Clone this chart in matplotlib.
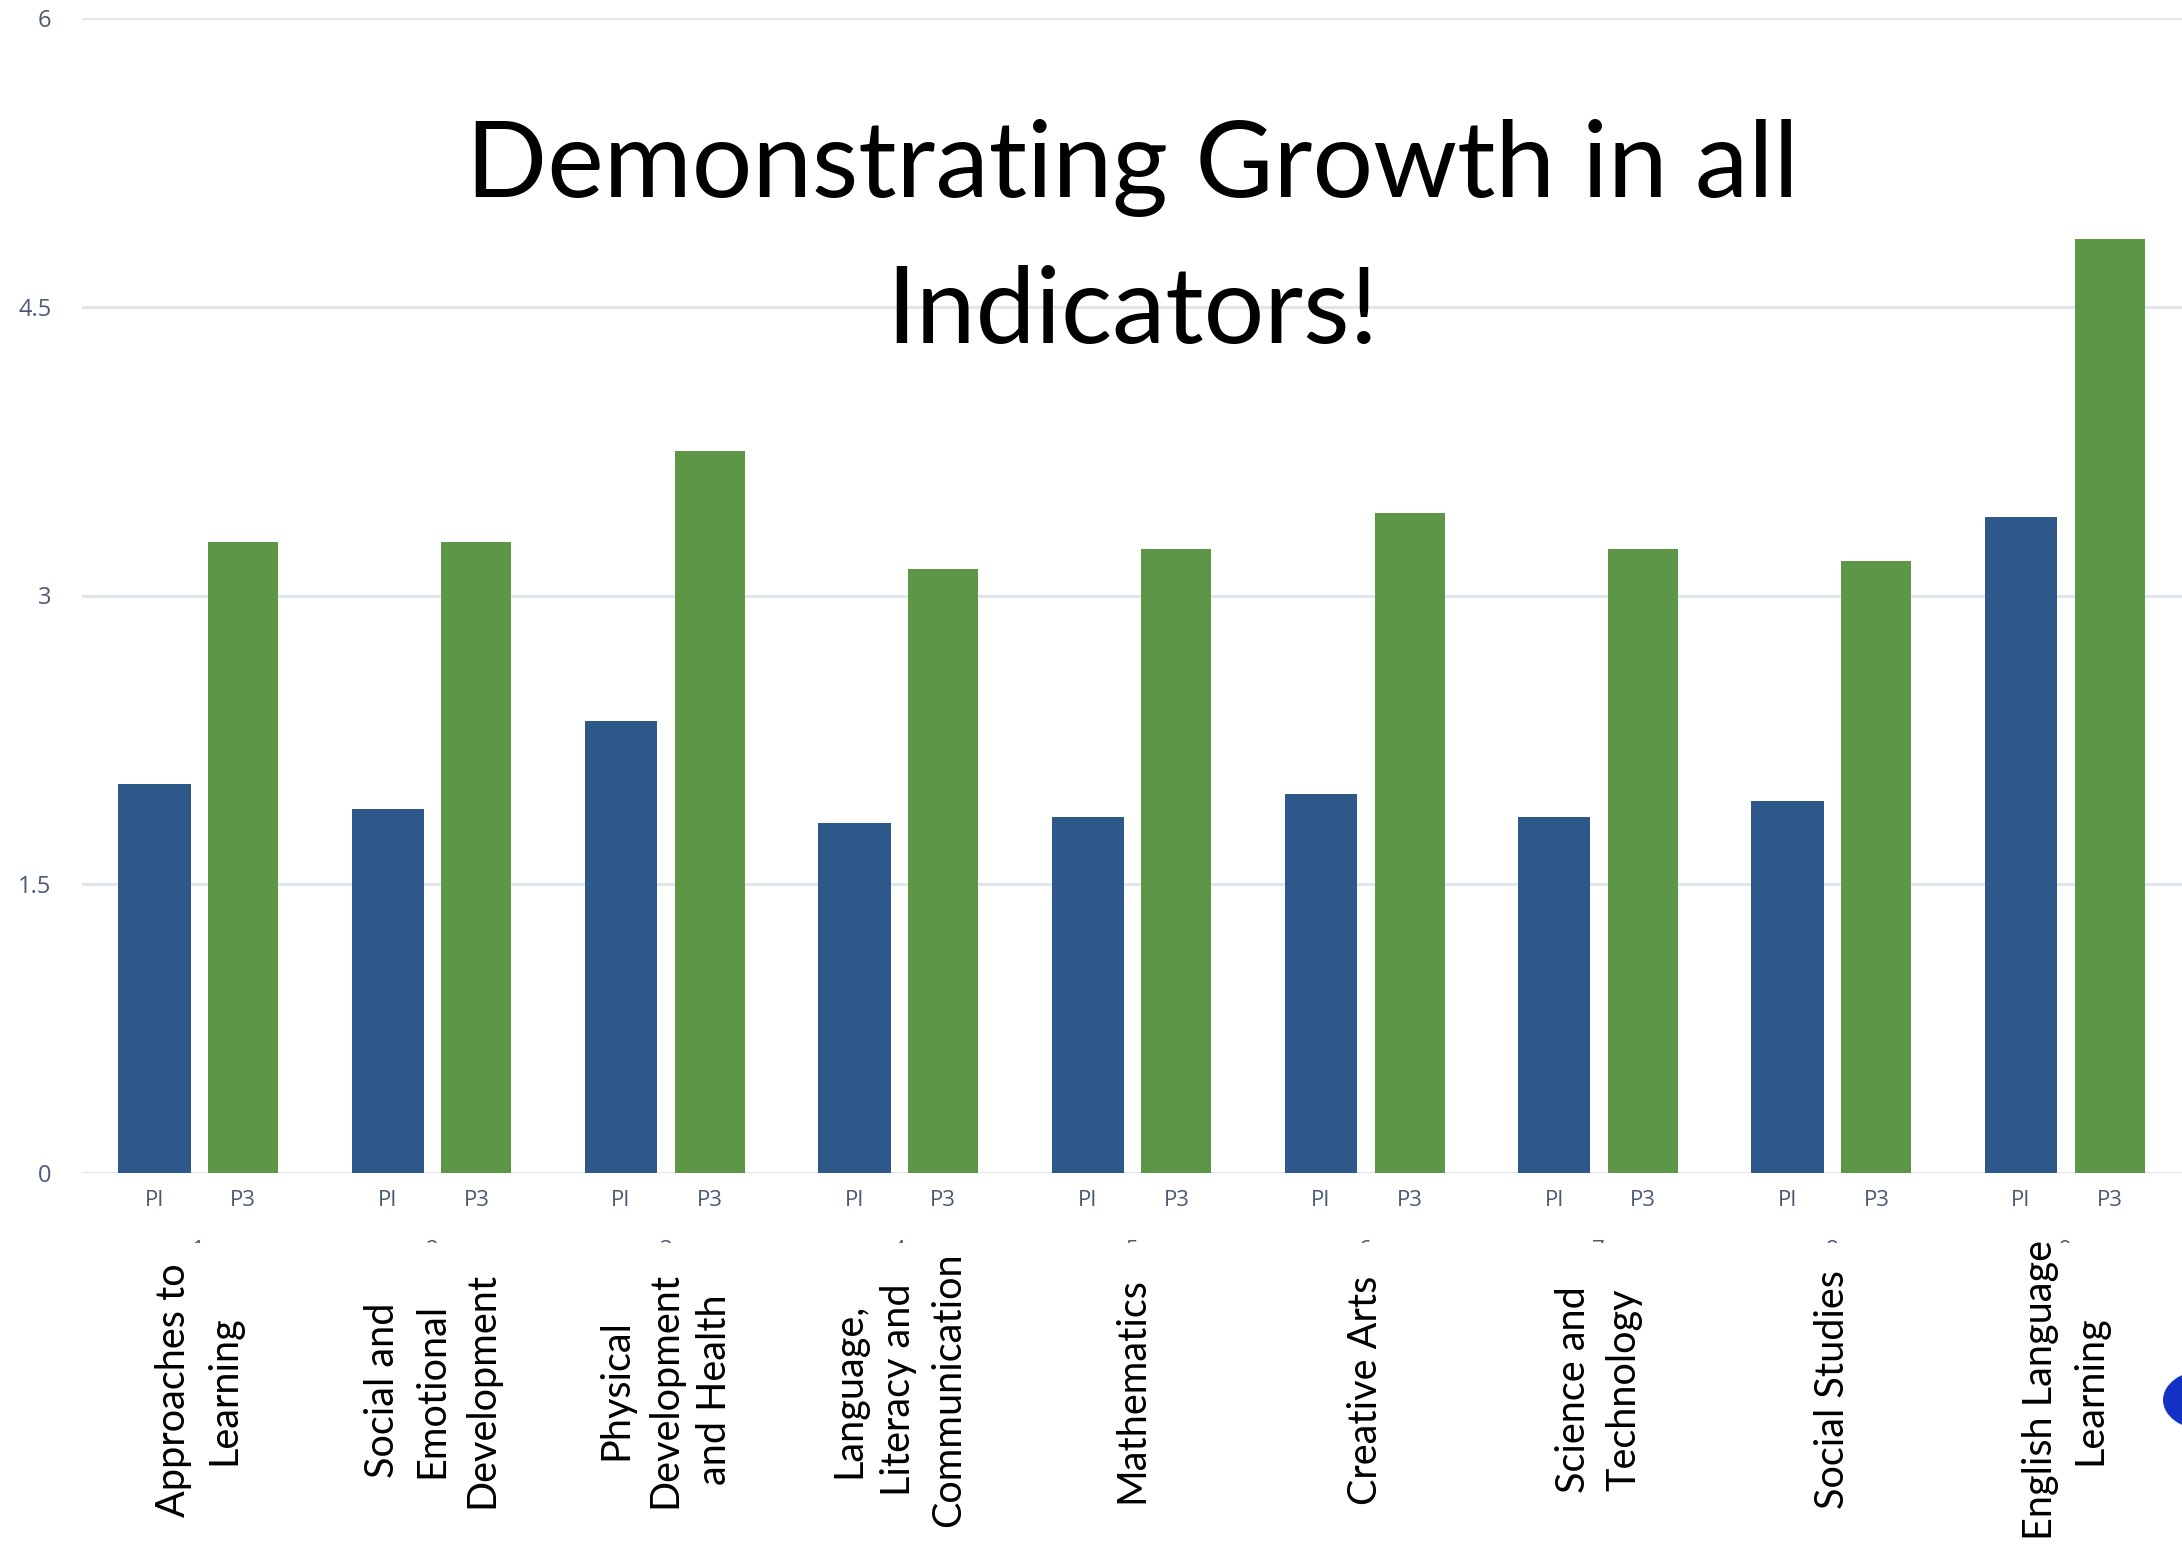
import matplotlib
matplotlib.use("Agg")
import matplotlib.pyplot as plt
from matplotlib.patches import Rectangle, Circle
import numpy as np

# data
categories = [
    "Approaches to\nLearning",
    "Social and\nEmotional\nDevelopment",
    "Physical\nDevelopment\nand Health",
    "Language,\nLiteracy and\nCommunication",
    "Mathematics",
    "Creative Arts",
    "Science and\nTechnology",
    "Social Studies",
    "English Language\nLearning",
]
group_numbers = ["1", "2", "3", "4", "5", "6", "7", "8", "9"]
series_names = ["PI", "P3"]
p1_values = [2.02, 1.89, 2.35, 1.82, 1.85, 1.97, 1.85, 1.93, 3.41]
p3_values = [3.28, 3.28, 3.75, 3.14, 3.24, 3.43, 3.24, 3.18, 4.85]
y_ticks = [0, 1.5, 3, 4.5, 6]
y_tick_labels = ["0", "1.5", "3", "4.5", "6"]

BLUE = "#2E5889"
GREEN = "#5E9648"
GRID = "#E1E5EC"
TICK = "#4B5B73"

W, H = 2182, 1547
fig = plt.figure(figsize=(W / 100, H / 100), dpi=100)
fig.patch.set_facecolor("white")

ax = fig.add_axes([82 / W, 1 - 1173 / H, 1 - 82 / W, (1173 - 18) / H])
ax.set_facecolor("none")

x = np.arange(len(categories))
off = 0.19
ax.bar(x - off, p1_values, width=0.31, color=BLUE, zorder=2)
ax.bar(x + off, p3_values, width=0.30, color=GREEN, zorder=2)

ax.set_xlim(-0.5, len(categories) - 0.5)
ax.set_ylim(0, 6)
ax.set_yticks(y_ticks)
ax.set_yticklabels(y_tick_labels, family="Open Sans", fontsize=17, color=TICK)
ax.yaxis.grid(True, color=GRID, linewidth=2.2, zorder=0)
ax.set_axisbelow(True)

tick_pos = np.ravel(np.column_stack([x - off, x + off]))
ax.set_xticks(tick_pos)
ax.set_xticklabels(series_names * len(categories), family="Open Sans",
                   fontsize=16, color=TICK)
ax.tick_params(axis="both", length=0)
ax.tick_params(axis="y", pad=22)
ax.tick_params(axis="x", pad=12)
for s in ax.spines.values():
    s.set_visible(False)

# group numbers, mostly hidden under the label strip
trans = ax.get_xaxis_transform()
for xi, num in zip(x, group_numbers):
    ax.text(xi, -(1251 - 1173) / (1173 - 18), num, transform=trans,
            ha="center", va="center", fontsize=16, color=TICK,
            family="Open Sans", clip_on=False, zorder=1)

# white strip covering the lower part of the page
fig.add_artist(Rectangle((0, 0), 1, (H - 1243) / H, transform=fig.transFigure,
                         facecolor="white", edgecolor="none", zorder=4))

# category labels
for xi, lab in zip(x, categories):
    xf = fig.transFigure.inverted().transform(trans.transform((xi, 0)))[0]
    fig.text(xf, 1 - 1390 / H, lab, rotation=90, ha="center", va="center",
             multialignment="center", fontsize=28.5, family="Lato",
             linespacing=1.42, color="black", zorder=5)

# partial logo at the right edge
fig.add_artist(Circle((2205 / W, 1 - 1400 / H), 42 / W, transform=fig.transFigure,
                      facecolor="#1233C4", edgecolor="none", zorder=5))

# title
fig.text(1132 / W, 1 - 197 / H, "Demonstrating Growth in all", ha="center",
         va="baseline", fontsize=77, family="Lato", color="black", zorder=6)
fig.text(1132 / W, 1 - 343 / H, "Indicators!", ha="center",
         va="baseline", fontsize=77, family="Lato", color="black", zorder=6)

fig.savefig("out.png", dpi=100, facecolor="white")
